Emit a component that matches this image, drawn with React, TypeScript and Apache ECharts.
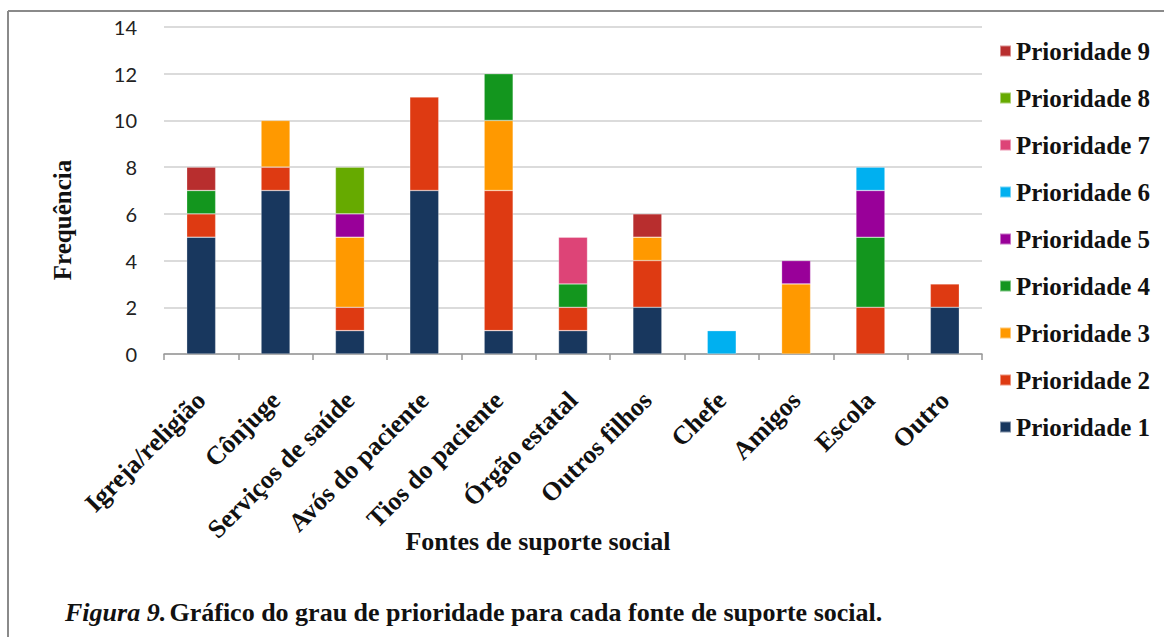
import React, { useEffect, useRef } from "react";
import * as echarts from "echarts";

const categories = [
  "Igreja/religião",
  "Cônjuge",
  "Serviços de saúde",
  "Avós do paciente",
  "Tios do paciente",
  "Órgão estatal",
  "Outros filhos",
  "Chefe",
  "Amigos",
  "Escola",
  "Outro",
];

const seriesNames = [
  "Prioridade 1",
  "Prioridade 2",
  "Prioridade 3",
  "Prioridade 4",
  "Prioridade 5",
  "Prioridade 6",
  "Prioridade 7",
  "Prioridade 8",
  "Prioridade 9",
];

const p1 = [5, 7, 1, 7, 1, 1, 2, 0, 0, 0, 2];
const p2 = [1, 1, 1, 4, 6, 1, 2, 0, 0, 2, 1];
const p3 = [0, 2, 3, 0, 3, 0, 1, 0, 3, 0, 0];
const p4 = [1, 0, 0, 0, 2, 1, 0, 0, 0, 3, 0];
const p5 = [0, 0, 1, 0, 0, 0, 0, 0, 1, 2, 0];
const p6 = [0, 0, 0, 0, 0, 0, 0, 1, 0, 1, 0];
const p7 = [0, 0, 0, 0, 0, 2, 0, 0, 0, 0, 0];
const p8 = [0, 0, 2, 0, 0, 0, 0, 0, 0, 0, 0];
const p9 = [1, 0, 0, 0, 0, 0, 1, 0, 0, 0, 0];

const seriesValues = [p1, p2, p3, p4, p5, p6, p7, p8, p9];

const colors = [
  "#18375E",
  "#DE3A12",
  "#FF9900",
  "#13961E",
  "#990099",
  "#00B0F0",
  "#DD4477",
  "#66AA00",
  "#B82E2E",
];

const yTicks = [0, 2, 4, 6, 8, 10, 12, 14];

const yTitle = "Frequência";
const xTitle = "Fontes de suporte social";
const captionLead = "Figura 9.";
const captionText = "Gráfico do grau de prioridade para cada fonte de suporte social.";

const SERIF = "Liberation Serif";

export default function App() {
  const ref = useRef<HTMLDivElement>(null);

  useEffect(() => {
    document.body.style.margin = "0";
    if (!ref.current) return;
    const chart = echarts.init(ref.current, null, { renderer: "svg" });
    const option: any = {
      animation: false,
      backgroundColor: "#ffffff",
      grid: { left: 164, right: 182, top: 27, bottom: 283, containLabel: false },
      legend: {
        orient: "vertical",
        left: 994,
        top: 33,
        itemWidth: 11,
        itemHeight: 11,
        itemGap: 21,
        icon: "rect",
        data: [...seriesNames].reverse(),
        textStyle: {
          fontFamily: SERIF,
          fontWeight: "bold",
          fontSize: 25,
          lineHeight: 26,
          color: "#111",
        },
      },
      xAxis: {
        type: "category",
        data: categories,
        axisLine: { lineStyle: { color: "#999", width: 1.5 } },
        axisTick: { show: true, length: 6, lineStyle: { color: "#999", width: 1.5 } },
        axisLabel: {
          rotate: 45,
          interval: 0,
          margin: 42,
          fontFamily: SERIF,
          fontWeight: "bold",
          fontSize: 26,
          color: "#111",
        },
      },
      yAxis: {
        type: "value",
        min: yTicks[0],
        max: yTicks[yTicks.length - 1],
        interval: 2,
        axisLine: { show: false },
        axisTick: { show: false },
        splitLine: { lineStyle: { color: "#cfcfcf", width: 1.5 } },
        axisLabel: {
          margin: 27,
          fontFamily: "Lato",
          fontSize: 20,
          color: "#222",
        },
      },
      series: seriesNames.map((name, i) => ({
        name,
        type: "bar",
        stack: "total",
        barWidth: "39%",
        itemStyle: {
          color: colors[i],
          borderColor: "rgba(255,255,255,0.45)",
          borderWidth: 0.6,
        },
        data: seriesValues[i].map((v) => (v === 0 ? null : v)),
      })),
      graphic: [
        {
          type: "line",
          shape: { x1: 8, y1: 11, x2: 1164, y2: 11 },
          style: { stroke: "#8a8a8a", lineWidth: 2 },
        },
        {
          type: "line",
          shape: { x1: 8, y1: 11, x2: 8, y2: 637 },
          style: { stroke: "#8a8a8a", lineWidth: 2 },
        },
        {
          type: "text",
          x: 62,
          y: 220,
          rotation: Math.PI / 2,
          style: {
            text: yTitle,
            fontFamily: SERIF,
            fontWeight: "bold",
            fontSize: 25,
            fill: "#111",
            align: "center",
            verticalAlign: "middle",
          },
        },
        {
          type: "text",
          x: 538,
          y: 541,
          style: {
            text: xTitle,
            fontFamily: SERIF,
            fontWeight: "bold",
            fontSize: 26,
            fill: "#111",
            align: "center",
            verticalAlign: "middle",
          },
        },
        {
          type: "text",
          x: 65,
          y: 612,
          style: {
            text: "{i|" + captionLead + "} {b|" + captionText + "}",
            verticalAlign: "middle",
            rich: {
              i: {
                fontFamily: SERIF,
                fontWeight: "bold",
                fontStyle: "italic",
                fontSize: 26,
                fill: "#111",
              },
              b: {
                fontFamily: SERIF,
                fontWeight: "bold",
                fontSize: 26,
                fill: "#111",
              },
            },
          },
        },
      ],
    };
    chart.setOption(option);
    return () => chart.dispose();
  }, []);

  return <div ref={ref} style={{ width: 1164, height: 637 }} />;
}
